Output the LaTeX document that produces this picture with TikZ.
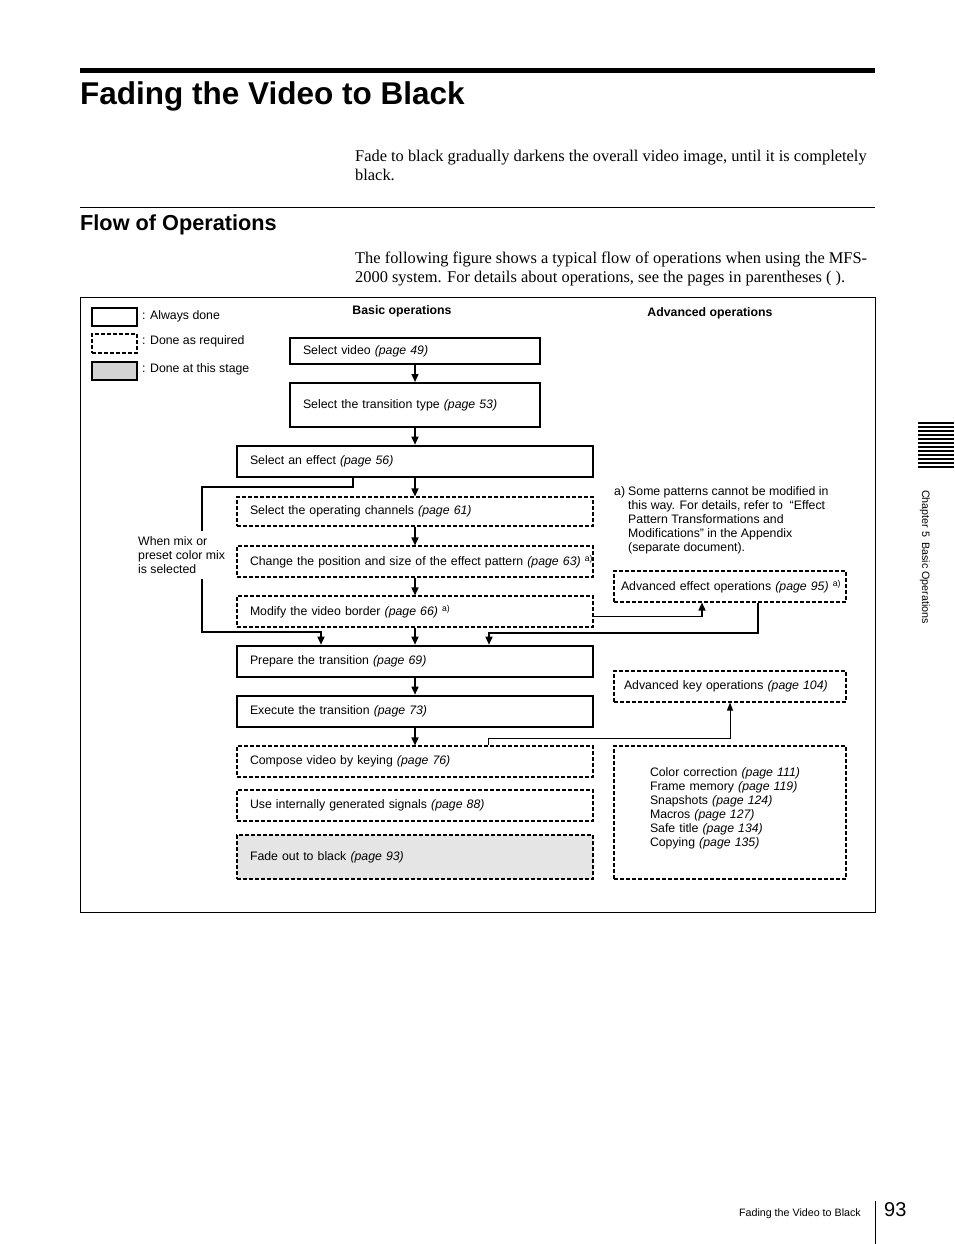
\documentclass[tikz,border=0pt]{standalone}
\usepackage{fontspec}
\setmainfont{Liberation Sans}
\newfontfamily\bodyserif{Liberation Serif}
\usepackage{xcolor}
\usetikzlibrary{arrows.meta}
\definecolor{stagegray}{RGB}{229,229,229}
\definecolor{legendgray}{RGB}{211,211,211}
\newcommand{\diagfont}{\fontsize{12.3}{14}\selectfont}
\tikzset{
  always-box/.style={draw, line width=2.6pt, minimum height=31pt, inner xsep=13pt,
    inner ysep=2pt, align=left, font=\diagfont},
  required-box/.style={draw, line width=1.1pt, dash pattern=on 4pt off 2pt,
    minimum height=31pt, inner xsep=13pt, inner ysep=2pt, align=left, font=\diagfont},
  stage-box/.style={required-box, fill=stagegray},
  flow-arrow/.style={-{Triangle[length=8pt, width=7pt]}, line width=1.5pt},
  thin-arrow/.style={-{Triangle[length=8pt, width=6pt]}, line width=0.9pt},
  diag-label/.style={font=\diagfont, align=left, inner sep=1pt},
  head-label/.style={font=\diagfont\bfseries, inner sep=1pt},
  body-text/.style={font=\bodyserif\fontsize{16.4}{19}\selectfont, align=left, inner sep=0pt},
  page-title/.style={font=\fontsize{31.5}{36}\selectfont\bfseries, inner sep=0pt},
  section-title/.style={font=\fontsize{21.7}{26}\selectfont\bfseries, inner sep=0pt},
  footer-text/.style={font=\fontsize{10.7}{13}\selectfont, inner sep=0pt}
}

\begin{document}
\begin{tikzpicture}[x=1pt, y=-1pt]
\useasboundingbox (0,0) rectangle (954,1244);

% Page heading
\fill (80,68) rectangle (875,73);
\node[page-title, anchor=base west] (title) at (80,105) {Fading the Video to Black};
\node[body-text, anchor=west] (intro) at (355,165.5) {Fade to black gradually darkens the overall video image, until it is completely\\black.};
\draw[line width=0.9pt] (80,207) -- (875,207);
\node[section-title, anchor=base west] (flow-title) at (80,230) {Flow of Operations};
\node[body-text, anchor=west] (flow-intro) at (355,268.5) {The following figure shows a typical flow of operations when using the MFS-\\2000 system. For details about operations, see the pages in parentheses ( ).};

% Figure frame
\draw[line width=0.9pt] (80,297) rectangle (875,912);

% Legend
\node[always-box, line width=2pt, minimum width=45pt, minimum height=18pt, inner sep=0pt] (legend-always) at (114.5,317) {};
\node[required-box, minimum width=45pt, minimum height=19pt, inner sep=0pt] (legend-required) at (114.5,343.5) {};
\node[always-box, line width=2pt, fill=legendgray, minimum width=45pt, minimum height=18pt, inner sep=0pt] (legend-stage) at (114.5,371) {};
\node[diag-label, anchor=west] at (141,316) {: Always done};
\node[diag-label, anchor=west] at (141,341) {: Done as required};
\node[diag-label, anchor=west] at (141,369) {: Done at this stage};

% Column heads
\node[head-label] (basic-head) at (402,311) {Basic operations};
\node[head-label] (adv-head) at (710,313) {Advanced operations};

% Basic operations
\node[always-box, line width=2pt, text width=224pt, minimum height=26pt] (sel-video) at (415,351) {Select video \textit{(page 49)}};
\node[always-box, line width=2pt, text width=224pt, minimum height=44pt] (sel-trans) at (415,405) {Select the transition type \textit{(page 53)}};
\node[always-box, text width=330pt] (sel-effect) at (415,461.5) {Select an effect \textit{(page 56)}};
\node[required-box, text width=330pt, minimum height=29pt] (sel-chan) at (415,511.5) {Select the operating channels \textit{(page 61)}};
\node[required-box, text width=330pt] (chg-pattern) at (415,561.5) {\mbox{Change the position and size of the effect pattern \textit{(page 63)}~\textsuperscript{a)}}};
\node[required-box, text width=330pt] (mod-border) at (415,611.5) {Modify the video border \textit{(page 66)}~\textsuperscript{a)}};
\node[always-box, text width=330pt] (prep-trans) at (415,661.5) {Prepare the transition \textit{(page 69)}};
\node[always-box, text width=330pt] (exec-trans) at (415,711.5) {Execute the transition \textit{(page 73)}};
\node[required-box, text width=330pt] (compose-key) at (415,761.5) {Compose video by keying \textit{(page 76)}};
\node[required-box, text width=330pt] (int-signals) at (415,805.5) {Use internally generated signals \textit{(page 88)}};
\node[stage-box, text width=330pt, minimum height=44pt] (fade-black) at (415,857) {Fade out to black \textit{(page 93)}};

% Advanced operations
\node[diag-label, anchor=north west] (note-mark) at (613,485) {a)};
\node[diag-label, anchor=north west] (note-text) at (627,485) {Some patterns cannot be modified in\\this way. For details, refer to \ ``Effect\\Pattern Transformations and\\Modifications'' in the Appendix\\(separate document).};
\node[required-box, inner xsep=7pt, text width=218pt] (adv-effect) at (730,586.5) {\mbox{Advanced effect operations \textit{(page 95)}~\textsuperscript{a)}}};
\node[required-box, inner xsep=10pt, text width=212pt] (adv-key) at (730,686.5) {Advanced key operations \textit{(page 104)}};
\node[required-box, inner xsep=36pt, text width=160pt, minimum height=133pt] (adv-misc) at (730,812.5) {Color correction \textit{(page 111)}\\Frame memory \textit{(page 119)}\\Snapshots \textit{(page 124)}\\Macros \textit{(page 127)}\\Safe title \textit{(page 134)}\\Copying \textit{(page 135)}\\[-4pt]\mbox{}};

% Main flow
\draw[flow-arrow] (sel-video) -- (sel-trans);
\draw[flow-arrow] (sel-trans) -- (sel-effect);
\draw[flow-arrow] (sel-effect) -- (sel-chan);
\draw[flow-arrow] (sel-chan) -- (chg-pattern);
\draw[flow-arrow] (chg-pattern) -- (mod-border);
\draw[flow-arrow] (mod-border) -- (prep-trans);
\draw[flow-arrow] (prep-trans) -- (exec-trans);
\draw[flow-arrow] (exec-trans) -- (compose-key);

% Bypass for mix or preset color mix
\coordinate (mix-top) at (202,487);
\coordinate (mix-bottom) at (202,632);
\draw[flow-arrow] ([xshift=-62pt]sel-effect.south) |- (mix-top) -- (mix-bottom) -| ([xshift=-94pt]prep-trans.north);
\node[diag-label, fill=white, anchor=west, inner ysep=5pt] (mix-note) at (137,555) {When mix or\\preset color mix\\is selected};

% Advanced effect loop
\draw[flow-arrow] ([yshift=-5pt]mod-border.east) -| ([xshift=-28pt]adv-effect.south);
\coordinate (effect-back) at (489,633);
\draw[flow-arrow] ([xshift=28pt]adv-effect.south) |- (effect-back) -- ([xshift=74pt]prep-trans.north);

% Advanced key branch
\coordinate (key-bend) at (488,738);
\draw[thin-arrow] ([xshift=73pt]compose-key.north) -- (key-bend) -| (adv-key.south);

% Chapter tab
\foreach \k in {0,...,11}
  \draw[line width=1.1pt] (918,423+4*\k) -- (954,423+4*\k);
\node[footer-text, rotate=-90] (chapter-tab) at (925,557) {Chapter 5\hspace{5pt}Basic Operations};

% Footer
\node[footer-text, anchor=base east] (footer-title) at (861,1216) {Fading the Video to Black};
\draw[line width=0.9pt] (875,1201) -- (875,1244);
\node[font=\fontsize{20}{24}\selectfont, anchor=base west, inner sep=0pt] (page-num) at (884,1216) {93};
\end{tikzpicture}
\end{document}
